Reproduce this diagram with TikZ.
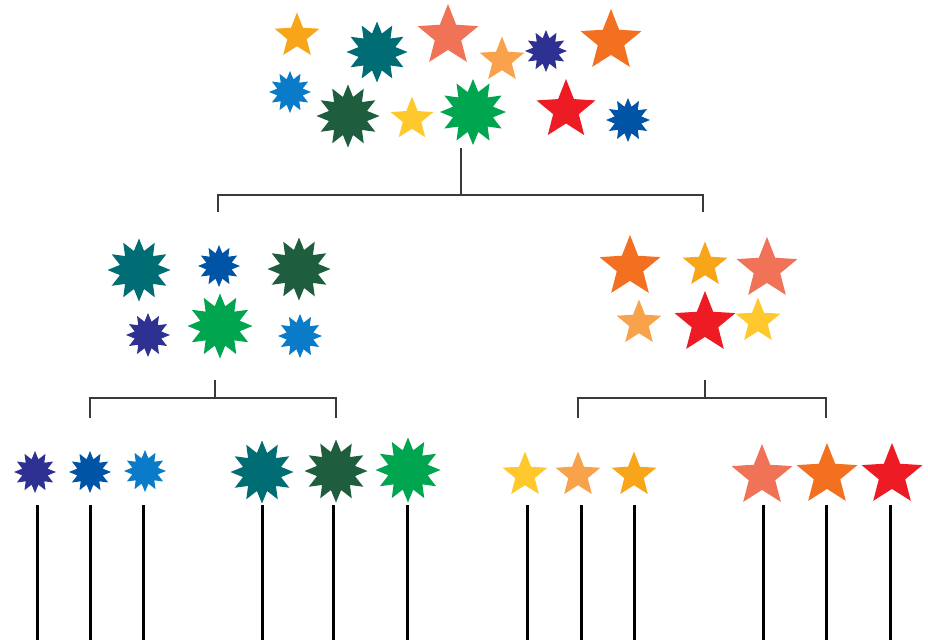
\documentclass[tikz,border=0pt]{standalone}
\usetikzlibrary{shapes.geometric}
\definecolor{cgold}{HTML}{F9A51A}
\definecolor{csalmon}{HTML}{F07257}
\definecolor{clorange}{HTML}{F9A24C}
\definecolor{corange}{HTML}{F37021}
\definecolor{cred}{HTML}{ED1C24}
\definecolor{cyellow}{HTML}{FFC82C}
\definecolor{cteal}{HTML}{006D75}
\definecolor{cdgreen}{HTML}{1E5E3E}
\definecolor{cgreen}{HTML}{00A54F}
\definecolor{cindigo}{HTML}{2E3192}
\definecolor{cblue}{HTML}{0054A6}
\definecolor{cmblue}{HTML}{0A7BC8}
\definecolor{cline}{HTML}{3A3A3A}
\tikzset{
  fivestar/.style={star, star points=5, star point ratio=2.3, inner sep=0pt, draw=none, fill=#1},
  burst/.style={star, star points=12, star point ratio=1.6, inner sep=0pt, draw=none, fill=#1},
  treeline/.style={draw=cline, line width=1.8pt},
  leafline/.style={draw=black, line width=3pt},
}
\begin{document}
\begin{tikzpicture}[x=1pt,y=-1pt]
\useasboundingbox[fill=white] (0,0) rectangle (928,640);
% top cluster
\node[fivestar=cgold, minimum size=47pt] (t1) at (297,36) {};
\node[burst=cteal, minimum size=61pt] (t2) at (377,52) {};
\node[fivestar=csalmon, minimum size=64pt] (t3) at (448,36) {};
\node[fivestar=clorange, minimum size=47pt] (t4) at (502,60) {};
\node[burst=cindigo, minimum size=42pt] (t5) at (546,51) {};
\node[fivestar=corange, minimum size=64pt] (t6) at (611,41) {};
\node[burst=cmblue, minimum size=42pt] (t7) at (290,92) {};
\node[burst=cdgreen, minimum size=63pt] (t8) at (348,116) {};
\node[fivestar=cyellow, minimum size=45pt] (t9) at (412,119) {};
\node[burst=cgreen, minimum size=66pt] (t10) at (473,112) {};
\node[fivestar=cred, minimum size=62pt] (t11) at (566,110) {};
\node[burst=cblue, minimum size=44pt] (t12) at (628,120) {};
% middle left cluster
\node[burst=cteal, minimum size=63pt] (l1) at (139,270) {};
\node[burst=cblue, minimum size=42pt] (l2) at (219,266) {};
\node[burst=cdgreen, minimum size=63pt] (l3) at (299,269) {};
\node[burst=cindigo, minimum size=44pt] (l4) at (148,335) {};
\node[burst=cgreen, minimum size=65pt] (l5) at (220,326) {};
\node[burst=cmblue, minimum size=44pt] (l6) at (300,336) {};
% middle right cluster
\node[fivestar=corange, minimum size=64pt] (r1) at (630,267) {};
\node[fivestar=cgold, minimum size=47pt] (r2) at (705,265) {};
\node[fivestar=csalmon, minimum size=64pt] (r3) at (767,269) {};
\node[fivestar=clorange, minimum size=47pt] (r4) at (639,323) {};
\node[fivestar=cred, minimum size=64pt] (r5) at (705,323) {};
\node[fivestar=cyellow, minimum size=47pt] (r6) at (758,321) {};
% bottom row
\node[burst=cindigo, minimum size=42pt] (b1) at (35,472) {};
\node[burst=cblue, minimum size=42pt] (b2) at (90,472) {};
\node[burst=cmblue, minimum size=42pt] (b3) at (145,471) {};
\node[burst=cteal, minimum size=63pt] (b4) at (262,472) {};
\node[burst=cdgreen, minimum size=63pt] (b5) at (336,471) {};
\node[burst=cgreen, minimum size=65pt] (b6) at (408,470) {};
\node[fivestar=cyellow, minimum size=47pt] (b7) at (525,475) {};
\node[fivestar=clorange, minimum size=47pt] (b8) at (578,475) {};
\node[fivestar=cgold, minimum size=47pt] (b9) at (634,475) {};
\node[fivestar=csalmon, minimum size=64pt] (b10) at (762,476) {};
\node[fivestar=corange, minimum size=64pt] (b11) at (827,475) {};
\node[fivestar=cred, minimum size=64pt] (b12) at (892,475) {};
% tree coordinates
\coordinate (root) at (461,148);
\coordinate (rootj) at (461,195);
\coordinate (lj) at (218,195);
\coordinate (rj) at (703,195);
\coordinate (le) at (218,212);
\coordinate (re) at (703,212);
\coordinate (ls) at (215,380);
\coordinate (lsj) at (215,398);
\coordinate (lla) at (90,398);
\coordinate (llb) at (336,398);
\coordinate (lle) at (90,418);
\coordinate (lre) at (336,418);
\coordinate (rs) at (705,380);
\coordinate (rsj) at (705,398);
\coordinate (rla) at (578,398);
\coordinate (rlb) at (826,398);
\coordinate (rle) at (578,418);
\coordinate (rre) at (826,418);
\draw[treeline] (root) -- (rootj);
\draw[treeline] (le) -- (lj) -- (rj) -- (re);
\draw[treeline] (ls) -- (lsj);
\draw[treeline] (lle) -- (lla) -- (llb) -- (lre);
\draw[treeline] (rs) -- (rsj);
\draw[treeline] (rle) -- (rla) -- (rlb) -- (rre);
% leaf lines
\foreach \n/\x in {1/37,2/90,3/143,4/262,5/333,6/407,7/527,8/581,9/634,10/763,11/826,12/890}{
  \coordinate (u\n) at (\x,505);
  \coordinate (d\n) at (\x,640);
  \draw[leafline] (u\n) -- (d\n);
}
\end{tikzpicture}
\end{document}
